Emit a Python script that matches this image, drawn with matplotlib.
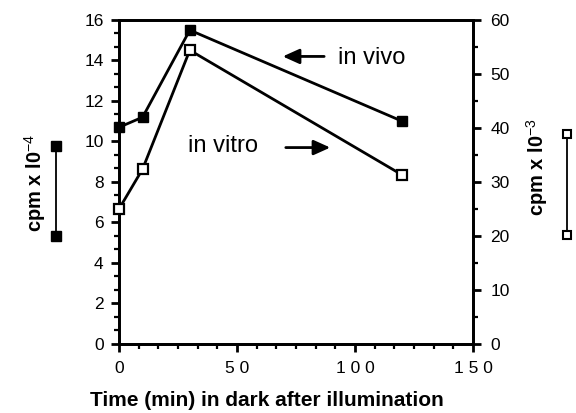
import matplotlib.pyplot as plt
from matplotlib.ticker import MultipleLocator, FixedLocator, FixedFormatter
from matplotlib.lines import Line2D

plt.rcParams['font.family'] = ['Liberation Sans', 'DejaVu Sans']
plt.rcParams['mathtext.fontset'] = 'custom'
plt.rcParams['mathtext.rm'] = 'Liberation Sans'
plt.rcParams['mathtext.it'] = 'Liberation Sans'

# data
time_min = [0, 10, 30, 120]
in_vivo = [10.7, 11.2, 15.5, 11.0]       # left axis, cpm x 10^-4
in_vitro = [25.0, 32.4, 54.4, 31.3]      # right axis, cpm x 10^-3
xtick_vals = [0, 50, 100, 150]
xtick_labels = ['0', '5 0', '1 0 0', '1 5 0']

fig = plt.figure(figsize=(5.76, 4.13), dpi=100)
ax = fig.add_axes([0.2066, 0.1671, 0.6146, 0.7845])
ax2 = ax.twinx()

ax.plot(time_min, in_vivo, color='black', lw=2.0, marker='s', ms=7,
        mfc='black', mec='black', zorder=3, clip_on=False)
ax2.plot(time_min, in_vitro, color='black', lw=2.0, marker='s', ms=6.5,
         mfc='white', mec='black', mew=1.6, zorder=3, clip_on=False)

ax.set_xlim(0, 150)
ax.set_ylim(0, 16)
ax2.set_ylim(0, 60)

ax.xaxis.set_major_locator(FixedLocator(xtick_vals))
ax.xaxis.set_major_formatter(FixedFormatter(xtick_labels))
ax.xaxis.set_minor_locator(MultipleLocator(50 / 6))
ax.yaxis.set_major_locator(MultipleLocator(2))
ax.yaxis.set_minor_locator(MultipleLocator(2 / 3))
ax2.yaxis.set_major_locator(MultipleLocator(10))
ax2.yaxis.set_minor_locator(MultipleLocator(5))

for a in (ax, ax2):
    for s in a.spines.values():
        s.set_linewidth(2.0)
ax.tick_params(axis='both', which='major', direction='out', length=6, width=2,
               labelsize=12.5)
ax.tick_params(axis='both', which='minor', direction='out', length=3.5, width=1.6)
ax.tick_params(axis='x', which='major', pad=6)
ax.tick_params(axis='y', which='major', pad=5)
ax2.tick_params(axis='y', which='major', direction='out', length=6, width=2,
                labelsize=12.5, pad=6.5)
ax2.tick_params(axis='y', which='minor', direction='out', length=3.5, width=1.6)

ax.set_xlabel('Time (min) in dark after illumination', fontweight='bold',
              fontsize=15)
ax.xaxis.set_label_coords(0.418, -0.145)

# axis labels at the sides
fig.text(0.061, 0.557, r'cpm x l0$^{-4}$', rotation=90, ha='center', va='center',
         fontweight='bold', fontsize=14.5)
fig.text(0.932, 0.596, r'cpm x l0$^{-3}$', rotation=90, ha='center', va='center',
         fontweight='bold', fontsize=14.5)

# symbol keys beside the axis labels
fig.add_artist(Line2D([0.0972, 0.0972], [0.4286, 0.6465], transform=fig.transFigure,
                      color='black', lw=1.3, marker='s', ms=6.5, mfc='black', mec='black'))
fig.add_artist(Line2D([0.984, 0.984], [0.431, 0.6755], transform=fig.transFigure,
                      color='black', lw=1.3, marker='s', ms=5.5, mfc='white', mec='black',
                      mew=1.5))

# annotations
arrow = dict(arrowstyle='-|>,head_length=1.0,head_width=0.45', color='black', lw=2.0)
ax.text(92.8, 14.1, 'in vivo', fontsize=17, ha='left', va='center')
ax.annotate('', xy=(68.2, 14.2), xytext=(88.1, 14.2), arrowprops=arrow)
ax.text(29.2, 9.8, 'in vitro', fontsize=17, ha='left', va='center')
ax.annotate('', xy=(90.7, 9.7), xytext=(69.5, 9.7), arrowprops=arrow)

fig.savefig('out.png', dpi=100)
